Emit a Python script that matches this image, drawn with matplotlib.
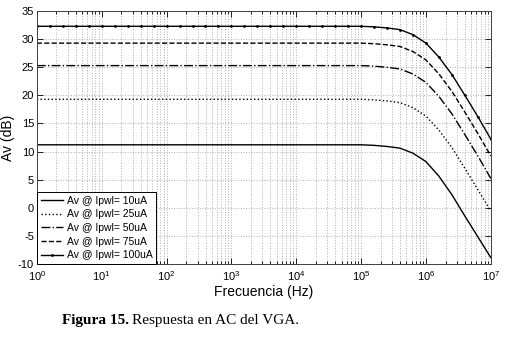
import matplotlib
matplotlib.use('Agg')
import matplotlib.pyplot as plt
import numpy as np
from matplotlib.ticker import LogLocator, MultipleLocator

plt.rcParams['font.family'] = ['Liberation Sans', 'DejaVu Sans']
plt.rcParams['axes.unicode_minus'] = False

# frequency grid (Hz), 0.2 decade steps from 1 Hz to 10 MHz
freq_hz = 10 ** np.arange(0, 7.01, 0.2)

# gain (dB); flat up to 100 kHz, then roll-off
labels = ['Av @ Ipwl= 10uA', 'Av @ Ipwl= 25uA', 'Av @ Ipwl= 50uA',
          'Av @ Ipwl= 75uA', 'Av @ Ipwl= 100uA']
av_10ua = [11.2] * 26 + [11.1, 10.9, 10.6, 9.7, 8.2, 5.6, 2.3, -1.5, -5.2, -8.9]
av_25ua = [19.3] * 26 + [19.2, 19.0, 18.7, 17.8, 16.3, 13.8, 10.7, 7.0, 3.2, -0.6]
av_50ua = [25.3] * 26 + [25.2, 25.0, 24.7, 23.8, 22.3, 19.8, 16.7, 13.0, 9.2, 5.2]
av_75ua = [29.3] * 26 + [29.2, 29.0, 28.7, 27.8, 26.3, 23.8, 20.7, 17.0, 13.2, 9.2]
av_100ua = [32.3] * 26 + [32.2, 32.0, 31.7, 30.8, 29.3, 26.8, 23.7, 20.0, 16.2, 12.2]

series = [av_10ua, av_25ua, av_50ua, av_75ua, av_100ua]
styles = [dict(ls='-'), dict(ls=':'), dict(ls='-.'), dict(ls='--'),
          dict(ls='-', marker='.', markersize=2)]

fig = plt.figure(figsize=(5.05, 3.37), dpi=100)
ax = fig.add_axes([0.073, 0.217, 0.899, 0.750])

for vals, lab, st in zip(series, labels, styles):
    ax.plot(freq_hz, vals, color='black', lw=1.0, label=lab, **st)

ax.set_xscale('log')
ax.set_xlim(1, 1e7)
ax.set_ylim(-10, 35)
ax.yaxis.set_major_locator(MultipleLocator(5))
ax.xaxis.set_major_locator(LogLocator(base=10, numticks=10))
ax.xaxis.set_minor_locator(LogLocator(base=10, subs=np.arange(2, 10), numticks=20))

ax.grid(True, which='major', color='#b0b0b0', ls=':', lw=0.7)
ax.grid(True, which='minor', axis='x', color='#b0b0b0', ls=':', lw=0.7)
ax.tick_params(which='both', direction='in', top=True, right=True, labelsize=8,
               width=0.6, pad=2)
ax.tick_params(axis='x', pad=4)
ax.tick_params(which='major', length=4)
ax.tick_params(which='minor', length=2)
for sp in ax.spines.values():
    sp.set_linewidth(0.7)
    sp.set_color('#404040')

ax.set_xlabel('Frecuencia (Hz)', fontsize=10, labelpad=1)
ax.set_ylabel('Av (dB)', fontsize=10, labelpad=2)

leg = ax.legend(loc='lower left', fontsize=7.5, handlelength=2.2, handletextpad=0.3,
                borderpad=0.35, labelspacing=0.35, borderaxespad=0, fancybox=False,
                framealpha=1)
leg.get_frame().set_edgecolor('black')
leg.get_frame().set_linewidth(0.7)

fig.text(0.123, 0.04, 'Figura 15.', fontsize=11, fontweight='bold',
         family='Liberation Serif', ha='left', va='baseline')
fig.text(0.262, 0.04, 'Respuesta en AC del VGA.', fontsize=11,
         family='Liberation Serif', ha='left', va='baseline')

fig.savefig('out.png', dpi=100)
